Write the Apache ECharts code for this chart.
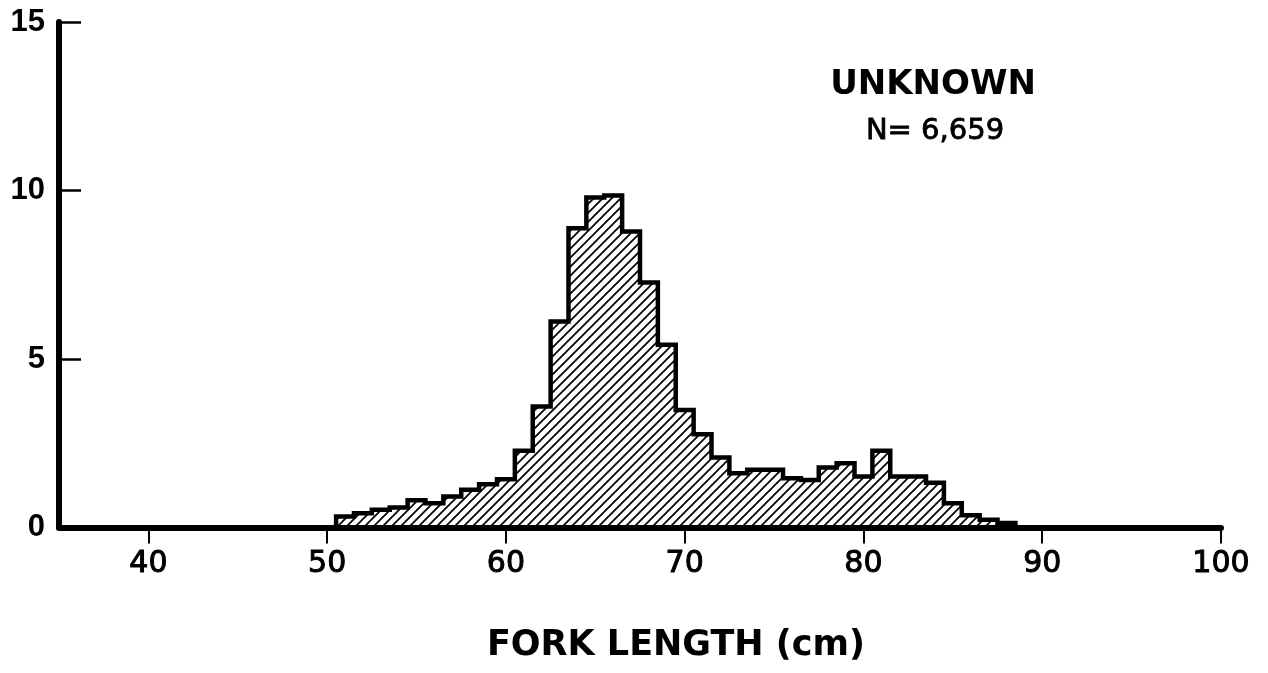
<!DOCTYPE html>
<html>
<head>
<meta charset="utf-8">
<title>Fork length frequency – Unknown</title>
<script src="https://cdn.jsdelivr.net/npm/echarts@6/dist/echarts.min.js"></script>
<style>
  html, body { margin: 0; padding: 0; background: #fff; }
  #chart { width: 1268px; height: 673px; }
</style>
</head>
<body>
<div id="chart"></div>
<script>
// Fork length bins (cm, bin centres; each bin is 1 cm wide)
const binCentres = [51, 52, 53, 54, 55, 56, 57, 58, 59, 60,
                    61, 62, 63, 64, 65, 66, 67, 68, 69, 70,
                    71, 72, 73, 74, 75, 76, 77, 78, 79, 80,
                    81, 82, 83, 84, 85, 86, 87, 88];
// Percent of fish in each bin
const percentValues = [0.33, 0.42, 0.53, 0.59, 0.81, 0.72, 0.92, 1.12, 1.28, 1.43,
                       2.28, 3.59, 6.11, 8.88, 9.79, 9.85, 8.78, 7.27, 5.42, 3.49,
                       2.77, 2.08, 1.61, 1.71, 1.71, 1.46, 1.41, 1.78, 1.91, 1.51,
                       2.28, 1.51, 1.51, 1.33, 0.72, 0.36, 0.23, 0.13];
const xTickValues = [40, 50, 60, 70, 80, 90, 100];
const yTickValues = [0, 5, 10, 15];
const groupLabel = 'UNKNOWN';
const sampleLabel = 'N= 6,659';
const xAxisTitle = 'FORK LENGTH (cm)';
const binWidth = 1;

// Diagonal hatch tile
function makeHatch() {
  const s = 9;
  const c = document.createElement('canvas');
  c.width = s; c.height = s;
  const g = c.getContext('2d');
  g.strokeStyle = '#000';
  g.lineWidth = 1.7;
  g.beginPath();
  g.moveTo(-1, s + 1); g.lineTo(s + 1, -1);
  g.moveTo(-1, 1); g.lineTo(1, -1);
  g.moveTo(s - 1, s + 1); g.lineTo(s + 1, s - 1);
  g.stroke();
  return c;
}
const hatch = { image: makeHatch(), repeat: 'repeat' };

const chart = echarts.init(document.getElementById('chart'), null, { renderer: 'canvas' });

chart.setOption({
  animation: false,
  backgroundColor: '#fff',
  grid: { left: 59, right: 47, top: 22, bottom: 145.5, containLabel: false },
  xAxis: {
    type: 'value',
    min: 35,
    max: 100,
    axisLine: { show: true, onZero: false, lineStyle: { color: '#000', width: 6 } },
    axisTick: {
      show: true, inside: false, length: 16,
      customValues: xTickValues,
      lineStyle: { color: '#000', width: 2 }
    },
    axisLabel: {
      show: true, margin: 22,
      customValues: xTickValues,
      color: '#000', fontFamily: 'DejaVu Sans', fontSize: 30,
      textBorderColor: '#000', textBorderWidth: 1
    },
    splitLine: { show: false }
  },
  yAxis: {
    type: 'value',
    min: 0,
    max: 15,
    interval: 5,
    axisLine: { show: true, lineStyle: { color: '#000', width: 6 } },
    axisTick: {
      show: true, inside: true, length: 22,
      lineStyle: { color: '#000', width: 2.5 }
    },
    axisLabel: {
      show: true, margin: 14,
      color: '#000', fontFamily: 'Liberation Sans', fontWeight: 'bold', fontSize: 31
    },
    splitLine: { show: false }
  },
  series: [{
    type: 'custom',
    data: [[binCentres[0], percentValues[0]]],
    clip: true,
    z: 1,
    renderItem: function (params, api) {
      // Build the stepped outline of the whole histogram
      const pts = [];
      const first = binCentres[0] - binWidth / 2;
      pts.push(api.coord([first, 0]));
      for (let i = 0; i < binCentres.length; i++) {
        const l = binCentres[i] - binWidth / 2;
        const r = binCentres[i] + binWidth / 2;
        pts.push(api.coord([l, percentValues[i]]));
        pts.push(api.coord([r, percentValues[i]]));
      }
      const last = binCentres[binCentres.length - 1] + binWidth / 2;
      pts.push(api.coord([last, 0]));
      return {
        type: 'polygon',
        shape: { points: pts },
        style: {
          fill: hatch,
          stroke: '#000',
          lineWidth: 4.5,
          lineJoin: 'miter'
        }
      };
    }
  }],
  graphic: [
    {
      type: 'text', x: 933, y: 85,
      style: {
        text: groupLabel, fill: '#000',
        font: 'bold 34px "DejaVu Sans"',
        textAlign: 'center', textVerticalAlign: 'middle'
      }
    },
    {
      type: 'text', x: 935, y: 131,
      style: {
        text: sampleLabel, fill: '#000',
        font: '29px "DejaVu Sans"',
        stroke: '#000', lineWidth: 0.8,
        textAlign: 'center', textVerticalAlign: 'middle'
      }
    },
    {
      type: 'text', x: 676, y: 646,
      style: {
        text: xAxisTitle, fill: '#000',
        font: 'bold 35px "DejaVu Sans"',
        textAlign: 'center', textVerticalAlign: 'middle'
      }
    }
  ]
});
</script>
</body>
</html>
